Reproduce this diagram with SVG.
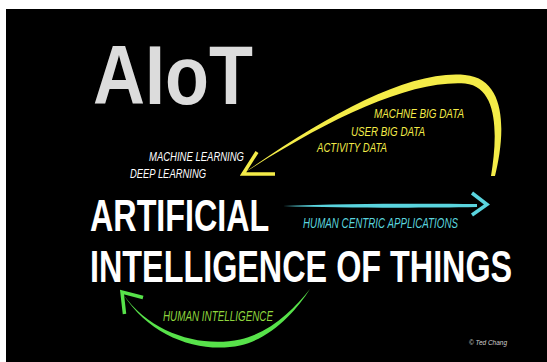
<svg xmlns="http://www.w3.org/2000/svg" width="547" height="362" viewBox="0 0 547 362">
<style>
.title{font-family:"Liberation Sans",Arial,sans-serif;font-weight:bold}
.hand{font-family:"Liberation Sans",Arial,sans-serif;font-style:italic}
.yel{fill:#f4ec48}
.yelS{stroke:#f4ec48;fill:none;stroke-width:3.5;stroke-linejoin:miter;stroke-linecap:butt}
.grnS{stroke:#57e24a;fill:none;stroke-width:3.5;stroke-linejoin:miter;stroke-linecap:butt}
.cyaS{stroke:#5ad4de;fill:none;stroke-width:3.5;stroke-linejoin:miter;stroke-linecap:butt}
</style>
<rect x="0" y="0" width="547" height="362" fill="#ffffff"/>
<rect x="6" y="9" width="541" height="353" fill="#000000"/>

<g id="aiot">
<text class="title" transform="translate(93,104) scale(0.857,1)" x="0" y="0" font-size="84" fill="#dcdcdc">AIoT</text>
</g>

<g id="artificial-intelligence-of-things">
<text class="title" transform="translate(90,231) scale(0.734,1)" x="0" y="0" font-size="44" fill="#ffffff">ARTIFICIAL</text>
<text class="title" transform="translate(90,282) scale(0.735,1)" x="0" y="0" font-size="44" fill="#ffffff">INTELLIGENCE OF THINGS</text>
</g>

<g id="learning">
<text class="hand" x="149" y="160.5" font-size="12" fill="#ffffff" textLength="95" lengthAdjust="spacingAndGlyphs">MACHINE LEARNING</text>
<text class="hand" x="130" y="177.5" font-size="12" fill="#ffffff" textLength="76" lengthAdjust="spacingAndGlyphs">DEEP LEARNING</text>
</g>

<g id="big-data">
<text class="hand yel" x="374" y="117.5" font-size="13.5" textLength="90" lengthAdjust="spacingAndGlyphs">MACHNE BIG DATA</text>
<text class="hand yel" x="351" y="135.5" font-size="13.5" textLength="74" lengthAdjust="spacingAndGlyphs">USER BIG DATA</text>
<text class="hand yel" x="317" y="151.5" font-size="13.5" textLength="70" lengthAdjust="spacingAndGlyphs">ACTIVITY DATA</text>
</g>

<g id="human-centric-applications">
<text class="hand" x="303" y="227.5" font-size="14" fill="#5ad4de" textLength="155" lengthAdjust="spacingAndGlyphs">HUMAN CENTRIC APPLICATIONS</text>
</g>

<g id="human-intelligence">
<text class="hand" x="163" y="320.5" font-size="14" fill="#8ed63e" textLength="110" lengthAdjust="spacingAndGlyphs">HUMAN INTELLIGENCE</text>
</g>

<g id="credit">
<text x="469" y="344.5" font-family="'Liberation Sans',Arial,sans-serif" font-style="italic" font-size="8" fill="#d0d0d0" textLength="38" lengthAdjust="spacingAndGlyphs">© Ted Chang</text>
</g>

<g id="connectors">
<!-- yellow data arc -->
<path class="yel" d="M 244 173 C 330 113 410 70 465 75 C 510 79 504 140 495 176 L 491 176 C 497 140 500 87 465 83.5 C 410 80 330 118 244 173 Z"/>
<polyline class="yelS" points="257,152 243,174 275,174"/>
<!-- cyan arrow -->
<path d="M 283 206 C 340 203.5 420 203.5 477 204 L 477 207 C 420 208 340 208 283 206 Z" fill="#5ad4de"/>
<polyline class="cyaS" points="472,193 487,204.5 472,215"/>
<!-- green arc -->
<path d="M 123 294 C 150 337 200 354 240 345.5 C 272 338 296 311 310 289 C 294 309 270 333 240 339.5 C 200 348 150 333 123 294 Z" fill="#57e24a"/>
<polyline class="grnS" points="143,297.5 122,292 124.5,314"/>
</g>
</svg>
